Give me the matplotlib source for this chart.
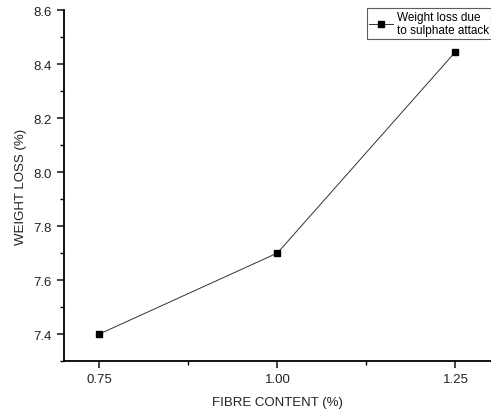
import matplotlib
matplotlib.use('Agg')
import matplotlib.pyplot as plt
import matplotlib.ticker as ticker

plt.rcParams['font.family'] = ['Liberation Sans', 'DejaVu Sans']

# Datos
fibre_content = [0.75, 1.00, 1.25]
weight_loss = [7.40, 7.70, 8.445]
series_label = 'Weight loss due\nto sulphate attack'

fig = plt.figure(figsize=(4.91, 4.14), dpi=100)
ax = fig.add_axes([0.130, 0.1256, 0.870, 0.8478])

ax.plot(fibre_content, weight_loss, color='#333333', linewidth=0.7,
        marker='s', markersize=5, markerfacecolor='black', markeredgecolor='black',
        label=series_label)

ax.set_xlim(0.7, 1.3)
ax.set_ylim(7.3, 8.6)
ax.set_xticks(fibre_content)
ax.set_xticklabels(['0.75', '1.00', '1.25'])
ax.xaxis.set_minor_locator(ticker.FixedLocator([0.875, 1.125]))
ax.yaxis.set_major_locator(ticker.MultipleLocator(0.2))
ax.yaxis.set_minor_locator(ticker.MultipleLocator(0.1))
ax.yaxis.set_major_formatter(ticker.FormatStrFormatter('%.1f'))

for side in ['top', 'right']:
	ax.spines[side].set_visible(False)
for side in ['left', 'bottom']:
	ax.spines[side].set_linewidth(1.3)

ax.tick_params(which='major', direction='out', length=5, width=1.2, labelsize=9.5, colors='#222222')
ax.tick_params(which='minor', direction='out', length=3, width=1.0)

ax.set_xlabel('FIBRE CONTENT (%)', fontsize=9.5, color='#222222', labelpad=8)
ax.set_ylabel('WEIGHT LOSS (%)', fontsize=9.5, color='#222222', labelpad=5)

leg = ax.legend(loc='upper right', bbox_to_anchor=(1.0, 1.005), fontsize=8.5,
                frameon=True, fancybox=False, edgecolor='#333333', borderpad=0.2,
                handlelength=2.0, handletextpad=0.3, borderaxespad=0)
leg.get_frame().set_linewidth(0.8)

fig.savefig('out.png', dpi=100)
